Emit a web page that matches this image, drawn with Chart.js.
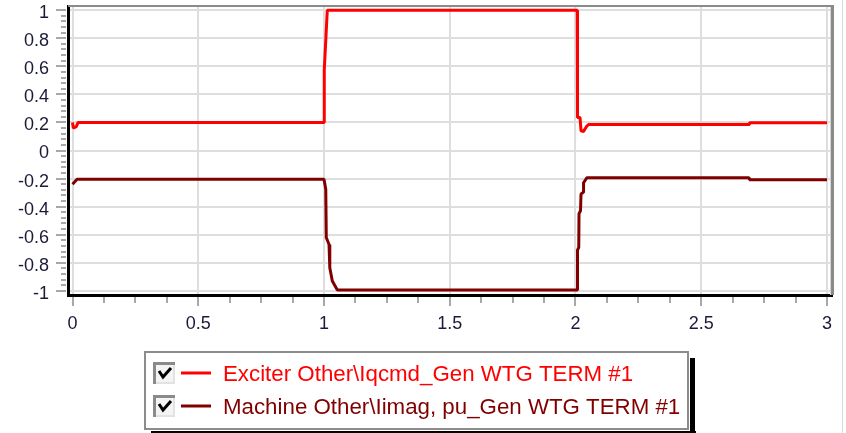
<!DOCTYPE html>
<html>
<head>
<meta charset="utf-8">
<script src="https://cdn.jsdelivr.net/npm/chart.js@4/dist/chart.umd.min.js"></script>
<style>
  html, body { margin: 0; padding: 0; background: #fff; }
  #wrap { width: 846px; height: 433px; position: relative; }
</style>
</head>
<body>
<div id="wrap"><canvas id="c" width="846" height="433"></canvas></div>
<script>
// Time axis (s) and signal values, per trace
const iqcmdT = [0, 0.003, 0.015, 0.022, 1.0, 1.001, 1.013, 2.007, 2.008, 2.018, 2.022, 2.032, 2.046, 2.052, 2.69, 2.692, 3.0];
const iqcmdV = [0.2, 0.16, 0.17, 0.2, 0.2, 0.57, 1.0, 1.0, 0.236, 0.236, 0.14, 0.136, 0.176, 0.185, 0.185, 0.197, 0.197];

const iimagT = [0, 0.018, 1.0, 1.007, 1.009, 1.02, 1.023, 1.033, 1.053, 2.007, 2.008, 2.013, 2.014, 2.02, 2.022, 2.03, 2.032, 2.045, 2.69, 2.692, 3.0];
const iimagV = [-0.24, -0.205, -0.205, -0.276, -0.62, -0.67, -0.836, -0.93, -0.995, -0.995, -0.71, -0.69, -0.45, -0.43, -0.31, -0.30, -0.23, -0.195, -0.195, -0.208, -0.208];

const seriesNames = ['Exciter Other\\Iqcmd_Gen WTG TERM #1', 'Machine Other\\Iimag, pu_Gen WTG TERM #1'];
const seriesColors = ['#ff0000', '#800000'];

const xMajor = [0, 0.5, 1, 1.5, 2, 2.5, 3];
const xLabels = ['0', '0.5', '1', '1.5', '2', '2.5', '3'];
const yMajor = [1, 0.8, 0.6, 0.4, 0.2, 0, -0.2, -0.4, -0.6, -0.8, -1];
const yLabels = ['1', '0.8', '0.6', '0.4', '0.2', '0', '-0.2', '-0.4', '-0.6', '-0.8', '-1'];
const xMinorStep = 0.125;
const yMinorStep = 0.04;

const toPoints = (t, v) => t.map((x, i) => ({ x: x, y: v[i] }));

// Tick marks, frame edges and the checkbox legend
const decor = {
  id: 'decor',
  afterDraw(chart) {
    const ctx = chart.ctx;
    const xs = chart.scales.x, ys = chart.scales.y;
    const a = chart.chartArea;
    ctx.save();

    // top / right frame with shadowed edge
    ctx.fillStyle = '#d4d4d4';
    ctx.fillRect(a.right - 2, a.top, 1, a.bottom - a.top);
    ctx.fillStyle = '#8a8a8a';
    ctx.fillRect(a.left, a.top - 1, a.right - a.left + 2, 2);
    ctx.fillRect(a.right - 1, a.top - 1, 3, a.bottom - a.top + 1);

    // y tick marks
    ctx.strokeStyle = '#a8a8a8';
    ctx.lineWidth = 2;
    for (let k = -25; k <= 25; k++) {
      const v = k * yMinorStep;
      const py = Math.round(ys.getPixelForValue(v));
      const major = Math.abs((v * 5) - Math.round(v * 5)) < 1e-6;
      ctx.beginPath();
      ctx.moveTo(a.left - 2, py);
      ctx.lineTo(a.left - (major ? 12 : 7), py);
      ctx.stroke();
    }
    // x tick marks
    for (let k = 0; k <= 24; k++) {
      const v = k * xMinorStep;
      const px = Math.round(xs.getPixelForValue(v));
      const major = (k % 4) === 0;
      ctx.beginPath();
      ctx.moveTo(px, a.bottom + 2);
      ctx.lineTo(px, a.bottom + (major ? 11 : 8));
      ctx.stroke();
    }

    // legend box
    const L = 144, T = 351, R = 689, B = 430;
    ctx.fillStyle = '#000';
    ctx.fillRect(R + 1, T + 7, 5, 433 - T - 7);
    ctx.fillRect(L + 7, B + 1, R - L, 5);
    ctx.fillStyle = '#fff';
    ctx.fillRect(L, T, R - L, B - T);
    ctx.strokeStyle = '#8c8c8c';
    ctx.lineWidth = 2;
    ctx.strokeRect(L + 1, T + 1, R - L - 2, B - T - 2);

    const rows = [373, 406];
    chart.data.datasets.forEach((ds, i) => {
      const cy = rows[i];
      // checkbox
      const bx = 153, by = cy - 11, bs = 22;
      ctx.fillStyle = '#f4f4f4';
      ctx.fillRect(bx, by, bs, bs);
      ctx.fillStyle = '#e2e2e2';
      ctx.fillRect(bx, by + bs - 2, bs, 2);
      ctx.fillRect(bx + bs - 2, by, 2, bs);
      ctx.fillStyle = '#8a8a8a';
      ctx.fillRect(bx, by, bs, 3);
      ctx.fillRect(bx, by, 3, bs);
      ctx.strokeStyle = '#000';
      ctx.lineWidth = 3;
      ctx.lineJoin = 'miter';
      ctx.beginPath();
      ctx.moveTo(bx + 6, by + 9);
      ctx.lineTo(bx + 10, by + 15);
      ctx.lineTo(bx + 18, by + 6);
      ctx.stroke();
      // line sample
      ctx.strokeStyle = ds.borderColor;
      ctx.lineWidth = 3;
      ctx.beginPath();
      ctx.moveTo(181, cy);
      ctx.lineTo(211, cy);
      ctx.stroke();
      // label
      ctx.fillStyle = ds.borderColor;
      ctx.font = '22.3px "Liberation Sans", Arial, sans-serif';
      ctx.textBaseline = 'alphabetic';
      ctx.textAlign = 'left';
      ctx.fillText(ds.label, 223, cy + 8);
    });

    // outer right edge line
    ctx.fillStyle = '#dcdcdc';
    ctx.fillRect(842, 0, 1, 433);
    ctx.restore();
  }
};

const tickFont = { family: '"Liberation Sans", Arial, sans-serif', size: 18 };
const tickColor = '#1a1a38';

new Chart(document.getElementById('c'), {
  type: 'line',
  data: {
    datasets: [
      { label: seriesNames[0], data: toPoints(iqcmdT, iqcmdV), borderColor: seriesColors[0], borderWidth: 3 },
      { label: seriesNames[1], data: toPoints(iimagT, iimagV), borderColor: seriesColors[1], borderWidth: 3 }
    ]
  },
  options: {
    responsive: false,
    animation: false,
    events: [],
    layout: { autoPadding: false, padding: { top: 6, right: 14, bottom: 98, left: 0 } },
    elements: { point: { radius: 0 }, line: { tension: 0, fill: false, borderJoinStyle: 'bevel' } },
    plugins: { legend: { display: false }, title: { display: false }, tooltip: { enabled: false } },
    scales: {
      x: {
        type: 'linear',
        min: -0.018,
        max: 3.02,
        afterBuildTicks: s => { s.ticks = xMajor.map(v => ({ value: v })); },
        afterFit: s => { s.height = 40; s.paddingLeft = 0; s.paddingRight = 0; },
        ticks: {
          font: tickFont, color: tickColor, padding: 18,
          callback: (v) => { const i = xMajor.indexOf(v); return i >= 0 ? xLabels[i] : ''; },
          maxRotation: 0, autoSkip: false
        },
        grid: { color: '#dedede', lineWidth: 2, drawTicks: false },
        border: { color: '#000', width: 3 }
      },
      y: {
        type: 'linear',
        min: -1.03,
        max: 1.03,
        afterBuildTicks: s => { s.ticks = yMajor.map(v => ({ value: v })); },
        afterFit: s => { s.width = 68; s.paddingTop = 0; s.paddingBottom = 0; },
        ticks: {
          font: tickFont, color: tickColor, padding: 19, labelOffset: 3,
          callback: (v) => { const i = yMajor.findIndex(m => Math.abs(m - v) < 1e-9); return i >= 0 ? yLabels[i] : ''; },
          autoSkip: false
        },
        grid: { color: '#dedede', lineWidth: 2, drawTicks: false },
        border: { color: '#000', width: 3 }
      }
    }
  },
  plugins: [decor]
});
</script>
</body>
</html>
